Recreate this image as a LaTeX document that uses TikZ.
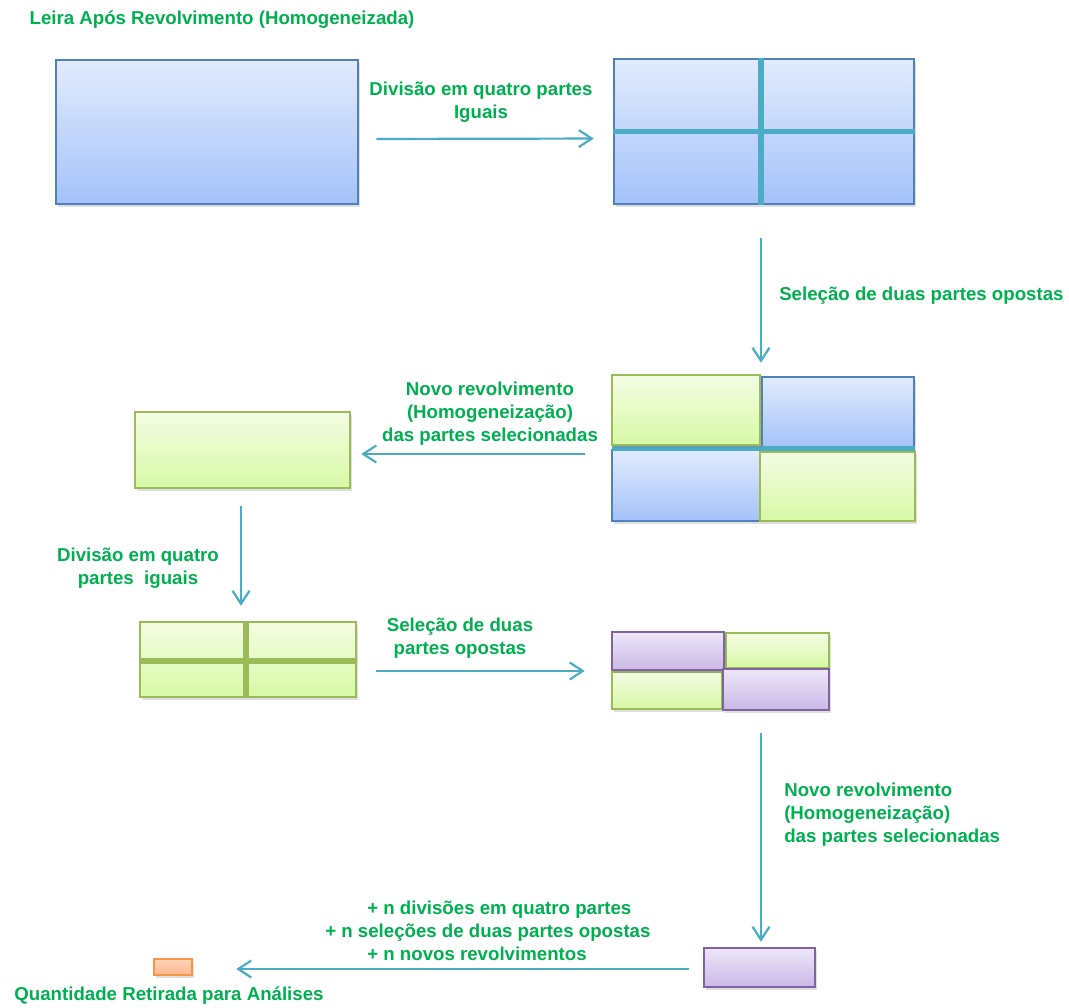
\documentclass[tikz,border=0pt]{standalone}
\usepackage{fontspec}
\setmainfont{Liberation Sans}
\usetikzlibrary{arrows.meta,shadows}

\definecolor{txtgreen}{HTML}{00B050}
\definecolor{teal}{HTML}{4BACC6}
\definecolor{blueline}{HTML}{4F81BD}
\definecolor{greenline}{HTML}{9BBB59}
\definecolor{purpleline}{HTML}{8064A2}
\definecolor{orangeline}{HTML}{F79646}

\newcommand\px{*0.75pt}

\tikzset{
  box/.style={rectangle, inner sep=0pt, line width=2.5\px,
    drop shadow={shadow xshift=2\px, shadow yshift=-3\px, opacity=.25}},
  blueBox/.style={box, draw=blueline, top color={rgb,255:red,226;green,235;blue,253}, bottom color={rgb,255:red,164;green,194;blue,249}},
  greenBox/.style={box, draw=greenline, top color={rgb,255:red,244;green,252;blue,228}, bottom color={rgb,255:red,215;green,249;blue,165}},
  purpleBox/.style={box, draw=purpleline, top color={rgb,255:red,237;green,231;blue,248}, bottom color={rgb,255:red,201;green,184;blue,230}},
  orangeBox/.style={box, draw=orangeline, top color={rgb,255:red,253;green,213;blue,185}, bottom color={rgb,255:red,251;green,183;blue,140}},
  flow/.style={draw=teal, line width=2.2\px, -{Straight Barb[length=13\px, width=17\px, line width=2.2\px]}},
  divline/.style={line width=5.5\px},
  lbl/.style={text=txtgreen, font=\bfseries\fontsize{14}{17.25}\selectfont, align=center, inner sep=0pt}
}

\begin{document}
\begin{tikzpicture}[x=0.75pt, y=-0.75pt]
  \useasboundingbox (0,0) rectangle (1069,1007);

  % boxes
  \node[blueBox, minimum width=302\px, minimum height=144\px] (A) at (207,132) {};
  \node[blueBox, minimum width=300\px, minimum height=145\px] (B) at (764,131.5) {};
  \draw[divline, teal] ([xshift=-3\px]B.north) -- ([xshift=-3\px]B.south);
  \draw[divline, teal] (B.west) -- (B.east);

  \node[inner sep=0pt, minimum width=303\px, minimum height=147\px] (C) at (763.5,448.5) {};
  \node[blueBox, minimum width=152\px, minimum height=71\px] (C2) at (838,412.5) {};
  \node[blueBox, minimum width=148\px, minimum height=71\px] (C3) at (686,485.5) {};
  \draw[divline, teal] (C.west) -- (C.east);
  \node[greenBox, minimum width=148\px, minimum height=70\px] (C1) at (686,410) {};
  \node[greenBox, minimum width=155\px, minimum height=69\px] (C4) at (837.5,486.5) {};

  \node[greenBox, minimum width=215\px, minimum height=76\px] (D) at (242.5,450) {};
  \node[greenBox, minimum width=216\px, minimum height=75\px] (E) at (248,659.5) {};
  \draw[divline, greenline] ([xshift=-2\px]E.north) -- ([xshift=-2\px]E.south);
  \draw[divline, greenline] ([yshift=-1.5\px]E.west) -- ([yshift=-1.5\px]E.east);

  \node[inner sep=0pt, minimum width=217\px, minimum height=78\px] (F) at (720.5,671) {};
  \node[greenBox, minimum width=103\px, minimum height=35\px] (F2) at (777.5,650.5) {};
  \node[greenBox, minimum width=110\px, minimum height=37\px] (F3) at (667,690.5) {};
  \node[purpleBox, minimum width=112\px, minimum height=38\px] (F1) at (668,651) {};
  \node[purpleBox, minimum width=106\px, minimum height=41\px] (F4) at (776,689.5) {};

  \node[purpleBox, minimum width=111\px, minimum height=39\px] (G) at (759.5,967.5) {};
  \node[orangeBox, minimum width=38\px, minimum height=16\px] (H) at (173,967) {};

  % labels
  \node[lbl] (title) at (222,20) {Leira Após Revolvimento (Homogeneizada)};
  \node[lbl] (lAB) at (481,102) {Divisão em quatro partes\\Iguais};
  \node[lbl, anchor=west] (lBC) at (779,296) {Seleção de duas partes opostas};
  \node[lbl] (lCD) at (490,414) {Novo revolvimento\\(Homogeneização)\\das partes selecionadas};
  \node[lbl] (lDE) at (138,568.5) {Divisão em quatro\\partes\ \ iguais};
  \node[lbl] (lEF) at (460,638.5) {Seleção de duas\\partes opostas};
  \node[lbl, anchor=west, align=left] (lFG) at (784,815) {Novo revolvimento\\(Homogeneização)\\das partes selecionadas};
  \node[lbl, anchor=west, align=left] (lGH) at (325,931) {\hspace*{31.5pt}+ n divisões em quatro partes\\+ n seleções de duas partes opostas\\\hspace*{31.5pt}+ n novos revolvimentos};
  \node[lbl] (lH) at (169,996) {Quantidade Retirada para Análises};

  % arrows
  \draw[flow, shorten <=12.75pt, shorten >=14.25pt] ([yshift=-7\px]A.east) -- ([yshift=-7\px]B.west);
  \draw[flow, shorten <=24.75pt, shorten >=9pt] ([xshift=-3\px]B.south) -- ([xshift=-3\px]B.south |- C.north);
  \draw[flow, shorten <=20.25pt, shorten >=7.5pt] ([yshift=-4\px]C.west |- D.east) -- ([yshift=-4\px]D.east);
  \draw[flow, shorten <=12.75pt, shorten >=11.25pt] ([xshift=-7\px]E.north |- D.south) -- ([xshift=-7\px]E.north);
  \draw[flow, shorten <=14.25pt, shorten >=20.25pt] (E.east |- F.west) -- (F.west);
  \draw[flow, shorten <=17.25pt, shorten >=3.75pt] ([xshift=1.5\px]G.north |- F.south) -- ([xshift=1.5\px]G.north);
  \draw[flow, shorten <=10.5pt, shorten >=32.25pt] ([yshift=-1.5\px]G.west) -- ([yshift=-1.5\px]G.west -| H.east);
\end{tikzpicture}
\end{document}
